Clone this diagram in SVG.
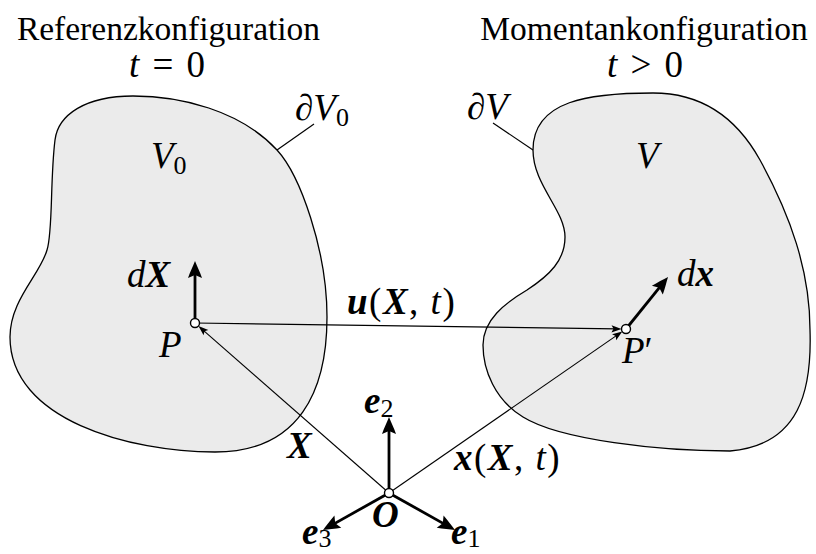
<svg xmlns="http://www.w3.org/2000/svg" width="816" height="554" viewBox="0 0 816 554">
<style>
.title{font-family:"Liberation Serif",serif;font-size:33.5px;fill:#000}
.m{font-family:"Liberation Serif",serif;font-size:37px;font-style:italic;fill:#000}
.r{font-style:normal}
.b{font-weight:bold;font-style:italic}
.sub{font-size:26px;font-style:normal}
.blob{fill:#ebebeb;stroke:#000;stroke-width:1.3}
.lead{fill:none;stroke:#000;stroke-width:1.2}
.thick{fill:none;stroke:#000;stroke-width:2.8}
.thin{fill:none;stroke:#000;stroke-width:1.1}
.pt{fill:#fff;stroke:#000;stroke-width:1.4}
</style>
<defs>
<marker id="ah" markerUnits="userSpaceOnUse" markerWidth="20" markerHeight="16" refX="9" refY="0" viewBox="0 -8 20 16" orient="auto" overflow="visible">
<path d="M17,0 C12,-2 6,-5 0,-7 L3,0 L0,7 C6,5 12,2 17,0 Z" fill="#000"/>
</marker>
<marker id="as" markerUnits="userSpaceOnUse" markerWidth="12" markerHeight="8" refX="5" refY="0" viewBox="0 -4 12 8" orient="auto" overflow="visible">
<path d="M10,0 L0,-3.6 L2,0 L0,3.6 Z" fill="#000"/>
</marker>
</defs>

<g id="title-ref">
<text class="title" x="168.5" y="40" text-anchor="middle">Referenzkonfiguration</text>
<text class="m" x="167" y="77" text-anchor="middle" word-spacing="4">t <tspan class="r">= 0</tspan></text>
</g>
<g id="title-mom">
<text class="title" x="644" y="40" text-anchor="middle">Momentankonfiguration</text>
<text class="m" x="645" y="77" text-anchor="middle" word-spacing="4">t <tspan class="r">&gt; 0</tspan></text>
</g>

<g id="body-ref">
<path class="blob" d="M133,96 C180,96 240,110 277,150 C300,175 327,250 327,317 C327,390 300,452 215,452 C130,452 10,420 10,337 C10,300 40,275 47,250 C53,232 50,180 55,140 C58,115 85,96 133,96 Z"/>
<line class="lead" x1="277" y1="150" x2="314" y2="124"/>
<text class="m" x="295" y="120"><tspan class="r">∂</tspan>V<tspan class="sub" dy="6">0</tspan></text>
<text class="m" x="151" y="168">V<tspan class="sub" dy="6">0</tspan></text>
</g>

<g id="body-mom">
<path class="blob" d="M653,93 C700,93 735,115 760,160 C790,215 810,270 810,330 C812,390 800,445 730,451 C660,451 560,440 523,417 C495,400 483,370 483,345 C483,320 505,303 527,290 C550,275 565,260 565,237 C565,210 533,185 533,150 C533,100 590,93 653,93 Z"/>
<line class="lead" x1="533" y1="150" x2="493" y2="123"/>
<text class="m" x="467" y="119"><tspan class="r">∂</tspan>V</text>
<text class="m" x="636" y="168">V</text>
</g>

<g id="connectors">
<line class="thin" x1="195" y1="323" x2="616.5" y2="328.9" marker-end="url(#as)"/>
<line class="thin" x1="389" y1="493" x2="202.2" y2="329.3" marker-end="url(#as)"/>
<line class="thin" x1="389" y1="493" x2="618.2" y2="334.4" marker-end="url(#as)"/>
<line class="thick" x1="195" y1="323" x2="195" y2="269" marker-end="url(#ah)"/>
<line class="thick" x1="626" y1="329" x2="663" y2="283.2" marker-end="url(#ah)"/>
<line class="thick" x1="389" y1="493" x2="389" y2="425" marker-end="url(#ah)"/>
<line class="thick" x1="389" y1="493" x2="448" y2="526.1" marker-end="url(#ah)"/>
<line class="thick" x1="389" y1="493" x2="330" y2="526.1" marker-end="url(#ah)"/>
</g>

<g id="point-P">
<circle class="pt" cx="195" cy="323" r="4.5"/>
<text class="m" x="159" y="357">P</text>
<text class="m" x="127" y="287">d<tspan class="b">X</tspan></text>
</g>
<g id="point-P2">
<circle class="pt" cx="626" cy="329" r="4.5"/>
<text class="m" x="622" y="363">P<tspan class="r">′</tspan></text>
<text class="m" x="677" y="286">d<tspan class="b">x</tspan></text>
</g>
<g id="origin-O">
<circle class="pt" cx="389" cy="493" r="4.5"/>
<text class="m b" x="372" y="527">O</text>
<text class="m" x="364" y="413"><tspan class="b">e</tspan><tspan class="sub" dy="4">2</tspan></text>
<text class="m" x="451" y="544"><tspan class="b">e</tspan><tspan class="sub" dy="3">1</tspan></text>
<text class="m" x="302" y="544"><tspan class="b">e</tspan><tspan class="sub" dy="3">3</tspan></text>
</g>
<g id="labels">
<text class="m" x="347" y="314" letter-spacing="1.5"><tspan class="b">u</tspan><tspan class="r">(</tspan><tspan class="b">X</tspan><tspan class="r">, </tspan>t<tspan class="r">)</tspan></text>
<text class="m b" x="287" y="458">X</text>
<text class="m" x="454" y="470" letter-spacing="1.5"><tspan class="b">x</tspan><tspan class="r">(</tspan><tspan class="b">X</tspan><tspan class="r">, </tspan>t<tspan class="r">)</tspan></text>
</g>
</svg>
